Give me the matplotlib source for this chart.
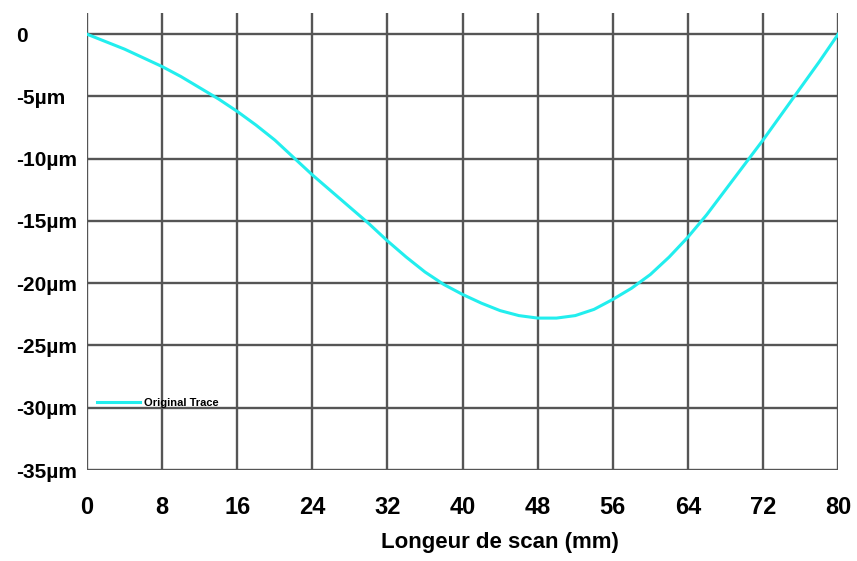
import matplotlib
matplotlib.use('Agg')
import matplotlib.pyplot as plt

# profil (mm, µm)
x_mm = [0, 2, 4, 6, 8, 10, 12, 14, 16, 18, 20, 22, 24, 26, 28, 30, 32, 34, 36, 38, 40,
        42, 44, 46, 48, 50, 52, 54, 56, 58, 60, 62, 64, 66, 68, 70, 72, 74, 76, 78, 80]
depth_um = [0, -0.6, -1.2, -1.9, -2.6, -3.4, -4.3, -5.2, -6.2, -7.3, -8.5, -9.9, -11.3,
            -12.6, -13.9, -15.2, -16.6, -17.9, -19.1, -20.1, -20.9, -21.6, -22.2, -22.6,
            -22.8, -22.8, -22.6, -22.1, -21.3, -20.4, -19.3, -17.9, -16.3, -14.5, -12.5,
            -10.5, -8.5, -6.4, -4.3, -2.2, 0]

x_ticks = [0, 8, 16, 24, 32, 40, 48, 56, 64, 72, 80]
y_ticks = [0, -5, -10, -15, -20, -25, -30, -35]
y_labels = ['0', '-5µm', '-10µm', '-15µm', '-20µm', '-25µm', '-30µm', '-35µm']

plt.rcParams['font.family'] = ['Liberation Sans', 'DejaVu Sans']

fig = plt.figure(figsize=(8.57, 5.61), dpi=100)
ax = fig.add_axes([0.1015, 0.1622, 0.8765, 0.8146])

ax.plot(x_mm, depth_um, color='#22eeee', lw=2.2, label='Original Trace')

ax.set_xlim(0, 80)
ax.set_ylim(-35, 1.7)
ax.set_xticks(x_ticks)
ax.set_yticks(y_ticks)
ax.set_yticklabels(y_labels)
ax.grid(True, color='#555555', lw=1.7)
ax.set_axisbelow(True)
for s in ax.spines.values():
    s.set_visible(False)

ax.tick_params(axis='both', length=0)
ax.tick_params(axis='x', labelsize=17, pad=19)
ax.tick_params(axis='y', labelsize=15, pad=51)
for lbl in ax.get_xticklabels() + ax.get_yticklabels():
    lbl.set_fontweight('bold')
for lbl in ax.get_yticklabels():
    lbl.set_horizontalalignment('left')

ax.set_xlabel('Longeur de scan (mm)', fontsize=16, fontweight='bold')
ax.xaxis.set_label_coords(0.55, -0.135)

leg = ax.legend(loc='center left', bbox_to_anchor=(0.0133, 0.147), frameon=False,
                borderaxespad=0, borderpad=0, handlelength=3.9, handletextpad=0.3,
                prop={'size': 8, 'weight': 'bold'})

fig.savefig('out.png', dpi=100)
